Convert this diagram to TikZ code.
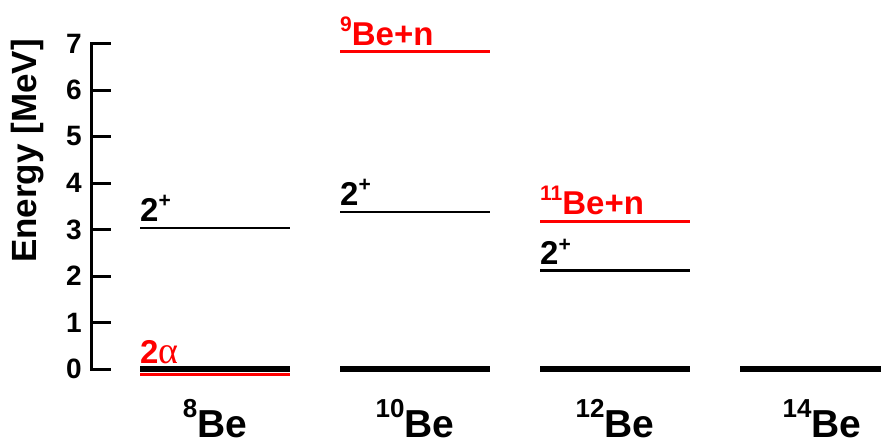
\documentclass[tikz,border=0pt]{standalone}
\usepackage{fontspec}
\setmainfont{Liberation Sans}
\newfontfamily\greekserif{Liberation Serif}
\definecolor{lvlred}{RGB}{255,0,0}
\newcommand{\supr}[1]{\raisebox{0.4em}{\fontsize{21}{21}\selectfont #1}}
\newcommand{\bsup}[1]{\raisebox{0.5em}{\fontsize{26}{26}\selectfont #1}}
\tikzset{
  axisline/.style={line width=3pt, line cap=rect},
  tickline/.style={line width=3pt},
  ticklab/.style={anchor=east, inner sep=0pt, font=\bfseries\fontsize{28}{28}\selectfont},
  exclevel/.style={line width=2.8pt},
  redlevel/.style={line width=3pt, lvlred},
  gslevel/.style={line width=6pt},
  lvllab/.style={anchor=base west, inner sep=0pt, font=\bfseries\fontsize{33}{33}\selectfont},
  nuclab/.style={anchor=base, inner sep=0pt, font=\bfseries\fontsize{39}{39}\selectfont},
}
\begin{document}
\begin{tikzpicture}[x=1pt, y=-1pt]
\useasboundingbox (0,0) rectangle (881,447);
% axis
\coordinate (atop) at (91,43);
\coordinate (abot) at (91,369);
\draw[axisline] (atop) -- (abot);
\foreach \v in {0,...,7}{
  \coordinate (t\v) at (91,{369-46.5*\v});
  \draw[tickline] (t\v) -- ++(20,0);
  \node[ticklab] (tl\v) at ([xshift=-9pt]t\v) {\v};
}
\node[rotate=90, inner sep=0pt, font=\bfseries\fontsize{35}{35}\selectfont] (ylab) at (28,151) {Energy [MeV]};
% 8Be
\draw[lvlred, line width=3pt] (140,374) -- (290,374);
\draw[gslevel] (140,369) -- (290,369);
\draw[exclevel] (140,228) -- (290,228);
\node[lvllab] (l8a) at (140,221) {2\supr{+}};
\node[lvllab, lvlred] (l8b) at (140,363) {2{\mdseries\greekserif\fontsize{38}{38}\selectfont α}};
\node[nuclab] (n8) at (215,437) {\bsup{8}Be};
% 10Be
\draw[gslevel] (340,369) -- (490,369);
\draw[exclevel] (340,212) -- (490,212);
\draw[redlevel] (340,51.5) -- (490,51.5);
\node[lvllab] (l10a) at (340,205) {2\supr{+}};
\node[lvllab, lvlred] (l10b) at (340,45) {\supr{9}Be+n};
\node[nuclab] (n10) at (415,437) {\bsup{10}Be};
% 12Be
\draw[gslevel] (540,369) -- (690,369);
\draw[exclevel] (540,270.5) -- (690,270.5);
\draw[redlevel] (540,221.5) -- (690,221.5);
\node[lvllab] (l12a) at (540,264.5) {2\supr{+}};
\node[lvllab, lvlred] (l12b) at (540,214) {\supr{11}Be+n};
\node[nuclab] (n12) at (615,437) {\bsup{12}Be};
% 14Be
\draw[gslevel] (740,369) -- (890,369);
\node[nuclab] (n14) at (822,437) {\bsup{14}Be};
\end{tikzpicture}
\end{document}
